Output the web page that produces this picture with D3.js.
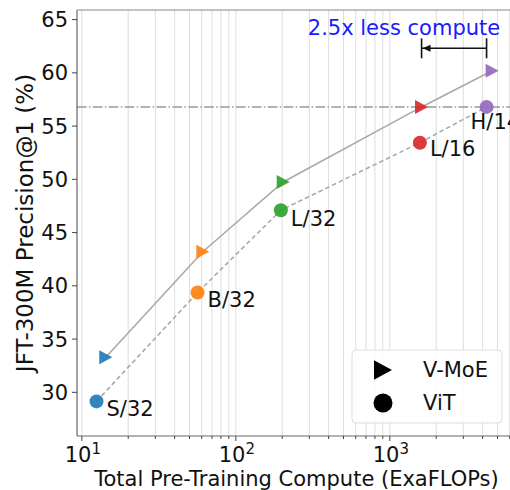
<!DOCTYPE html>
<html>
<head>
<meta charset="utf-8">
<script src="https://cdn.jsdelivr.net/npm/d3@7"></script>
<style>
  body { margin: 0; background: #fff; }
  text { font-family: 'DejaVu Sans', sans-serif; }
</style>
</head>
<body>
<script>
// data
var names = ['S/32', 'B/32', 'L/32', 'L/16', 'H/14']
var colors = ['#1f77b4', '#ff7f0e', '#2ca02c', '#d62728', '#9467bd']
var moe_compute = [14.3, 61, 203, 1607, 4615]
var moe_prec = [33.3, 43.2, 49.75, 56.8, 60.2]
var vit_compute = [12.45, 56.4, 196, 1567, 4247]
var vit_prec = [29.15, 39.37, 47.1, 53.44, 56.8]
var y_ticks = [30, 35, 40, 45, 50, 55, 60, 65]
var x_major = [10, 100, 1000]

var W = 510
var H = 490
var p_left = 77
var p_top = 10
var p_bottom = 436
var fs = 21

var svg = d3.select('body').append('svg').attr('width', W).attr('height', H)

var x = d3.scaleLog().domain([9.3, 7000]).range([p_left, p_left + 154 * Math.log10(7000 / 9.3)])
var y = d3.scaleLinear().domain([25.9, 65.9]).range([p_bottom, p_top])
var p_right = x.range()[1]

// minor + major grid (vertical only)
var x_minor = []
for (var k = 1; k <= 3; k++) {
  for (var m = 1; m <= 9; m++) {
    var v = m * Math.pow(10, k)
    if (v > 9.3 && v < 7000) x_minor.push(v)
  }
}
svg.append('g').selectAll('line').data(x_minor).enter().append('line')
  .attr('x1', function (d) { return x(d) }).attr('x2', function (d) { return x(d) })
  .attr('y1', p_top).attr('y2', p_bottom)
  .attr('stroke', '#dedede').attr('stroke-width', 1)

// dash-dot reference line at ViT H/14
svg.append('line')
  .attr('x1', p_left).attr('x2', p_right)
  .attr('y1', y(vit_prec[4])).attr('y2', y(vit_prec[4]))
  .attr('stroke', '#999').attr('stroke-width', 1.5)
  .attr('stroke-dasharray', '9.6,2.4,1.5,2.4')

// lines
var line = d3.line()
  .x(function (d) { return x(d[0]) })
  .y(function (d) { return y(d[1]) })
var moe_pts = d3.zip(moe_compute, moe_prec)
var vit_pts = d3.zip(vit_compute, vit_prec)
svg.append('path').attr('d', line(moe_pts)).attr('fill', 'none')
  .attr('stroke', '#aaa').attr('stroke-width', 1.6)
svg.append('path').attr('d', line(vit_pts)).attr('fill', 'none')
  .attr('stroke', '#aaa').attr('stroke-width', 1.6).attr('stroke-dasharray', '4.5,3')

function tri (s) {
  return 'M' + s + ',0L' + (-s) + ',' + (-s * 1.08) + 'L' + (-s) + ',' + (s * 1.08) + 'Z'
}

// markers
svg.append('g').selectAll('path').data(moe_pts).enter().append('path')
  .attr('d', tri(6.5))
  .attr('transform', function (d) { return 'translate(' + x(d[0]) + ',' + y(d[1]) + ')' })
  .attr('fill', function (d, i) { return colors[i] }).attr('opacity', 0.9)
svg.append('g').selectAll('circle').data(vit_pts).enter().append('circle')
  .attr('cx', function (d) { return x(d[0]) }).attr('cy', function (d) { return y(d[1]) })
  .attr('r', 7)
  .attr('fill', function (d, i) { return colors[i] }).attr('opacity', 0.9)

// point labels
var lab_dx = [10, 10, 10, 10, -16]
var lab_dy = [15, 14, 16, 13, 22]
svg.append('g').selectAll('text').data(vit_pts).enter().append('text')
  .attr('x', function (d, i) { return x(d[0]) + lab_dx[i] })
  .attr('y', function (d, i) { return y(d[1]) + lab_dy[i] })
  .attr('font-size', fs).attr('fill', '#111')
  .text(function (d, i) { return names[i] })

// annotation: 2.5x less compute
var ay = 48.3
var ax1 = x(moe_compute[3])
var ax2 = x(vit_compute[4])
var ann = svg.append('g').attr('stroke', '#111').attr('stroke-width', 1.6)
ann.append('line').attr('x1', ax1).attr('x2', ax2).attr('y1', ay).attr('y2', ay)
ann.append('line').attr('x1', ax1).attr('x2', ax1).attr('y1', ay - 10).attr('y2', ay + 10)
ann.append('line').attr('x1', ax2).attr('x2', ax2).attr('y1', ay - 10).attr('y2', ay + 10)
svg.append('path')
  .attr('d', 'M' + (ax1 + 1) + ',' + ay + 'l8,-3.5l0,7Z').attr('fill', '#111')
svg.append('text').attr('x', 404).attr('y', 35)
  .attr('text-anchor', 'middle').attr('font-size', fs).attr('fill', '#1a1aff')
  .text('2.5x less compute')

// spines
svg.append('line').attr('x1', p_left).attr('x2', p_left).attr('y1', p_top).attr('y2', p_bottom)
  .attr('stroke', '#666').attr('stroke-width', 1.2)
svg.append('line').attr('x1', p_left).attr('x2', p_right).attr('y1', p_bottom).attr('y2', p_bottom)
  .attr('stroke', '#666').attr('stroke-width', 1.2)
svg.append('line').attr('x1', p_left).attr('x2', p_right).attr('y1', p_top).attr('y2', p_top)
  .attr('stroke', '#888').attr('stroke-width', 1.2)

// y axis
var yt = svg.append('g').selectAll('g').data(y_ticks).enter().append('g')
yt.append('line').attr('x1', p_left - 5).attr('x2', p_left)
  .attr('y1', function (d) { return y(d) }).attr('y2', function (d) { return y(d) })
  .attr('stroke', '#444')
yt.append('text').attr('x', p_left - 9).attr('y', function (d) { return y(d) })
  .attr('dy', '0.36em').attr('text-anchor', 'end').attr('font-size', fs).attr('fill', '#111')
  .text(function (d) { return d })

// x axis ticks
svg.append('g').selectAll('line').data(x_minor).enter().append('line')
  .attr('x1', function (d) { return x(d) }).attr('x2', function (d) { return x(d) })
  .attr('y1', p_bottom).attr('y2', function (d) { return p_bottom + (x_major.indexOf(d) >= 0 ? 5 : 3) })
  .attr('stroke', '#444')
var xt = svg.append('g').selectAll('text').data(x_major).enter().append('text')
  .attr('x', function (d) { return x(d) + 1 }).attr('y', 462)
  .attr('text-anchor', 'middle').attr('font-size', fs).attr('fill', '#111')
xt.append('tspan').text('10')
xt.append('tspan').attr('dy', -8).attr('font-size', 15)
  .text(function (d) { return Math.round(Math.log10(d)) })

// axis labels
svg.append('text').attr('x', (p_left + p_right) / 2 - 2).attr('y', 486)
  .attr('text-anchor', 'middle').attr('font-size', fs).attr('fill', '#111')
  .text('Total Pre-Training Compute (ExaFLOPs)')
svg.append('text')
  .attr('transform', 'translate(33,' + ((p_top + p_bottom) / 2) + ') rotate(-90)')
  .attr('text-anchor', 'middle').attr('font-size', 23).attr('fill', '#111')
  .text('JFT-300M Precision@1 (%)')

// legend
var lg = svg.append('g')
lg.append('rect').attr('x', 352).attr('y', 350).attr('width', 150).attr('height', 73)
  .attr('rx', 4).attr('fill', '#fff').attr('fill-opacity', 0.85)
  .attr('stroke', '#ddd').attr('stroke-width', 1)
lg.append('path').attr('d', tri(9)).attr('transform', 'translate(383,370)').attr('fill', '#000')
lg.append('circle').attr('cx', 383).attr('cy', 403).attr('r', 9.5).attr('fill', '#000')
lg.append('text').attr('x', 423).attr('y', 377).attr('font-size', fs).attr('fill', '#111').text('V-MoE')
lg.append('text').attr('x', 423).attr('y', 410).attr('font-size', fs).attr('fill', '#111').text('ViT')
</script>
</body>
</html>
